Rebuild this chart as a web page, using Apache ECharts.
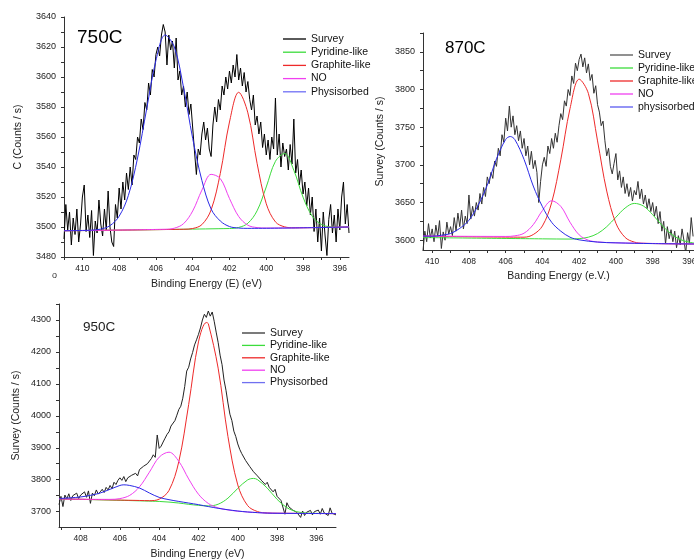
<!DOCTYPE html>
<html>
<head>
<meta charset="utf-8">
<title>N 1s XPS fits</title>
<script src="https://cdn.jsdelivr.net/npm/echarts@6/dist/echarts.min.js"></script>
<style>
  html, body { margin: 0; padding: 0; background: #fff; }
  #chart { width: 694px; height: 559px; }
</style>
</head>
<body>
<div id="chart"></div>
<script>
// ---------- 750C ----------
const survey750Start = 411.0 // eV, step 0.1 towards lower binding energy
const survey750 = [
  3492, 3515, 3498, 3510, 3488, 3506, 3495, 3512, 3490, 3502, 3520,
  3528, 3497, 3508, 3493, 3511, 3481, 3504, 3496, 3518, 3502,
  3494, 3512, 3498, 3524, 3500, 3490, 3487, 3515, 3506, 3526,
  3512, 3530, 3518, 3536, 3525, 3540, 3528, 3548, 3545, 3560,
  3556, 3572, 3565, 3583, 3578, 3596, 3588, 3605, 3600, 3615,
  3620, 3614, 3628, 3635, 3630, 3608, 3628, 3618, 3624, 3606,
  3626, 3598, 3604, 3588, 3594, 3580, 3590, 3575, 3582, 3566,
  3550, 3535, 3552, 3548, 3562, 3570, 3558, 3566, 3552, 3547,
  3568, 3580, 3570, 3585, 3578, 3594, 3588, 3600, 3592, 3604,
  3596, 3608, 3600, 3615, 3598, 3606, 3594, 3603, 3590, 3597,
  3585, 3578, 3588, 3568, 3574, 3562, 3570, 3553, 3562, 3548,
  3558, 3545, 3560, 3552, 3586, 3548, 3562, 3540, 3556, 3547,
  3552, 3538, 3555, 3542, 3572, 3536, 3545, 3528, 3538, 3522,
  3530, 3514, 3526, 3508, 3520, 3497, 3512, 3490, 3506, 3484,
  3510, 3494, 3481, 3505, 3515, 3496, 3508, 3490, 3512, 3498,
  3520, 3530, 3502, 3515, 3496
]
const pyridine750 = [[411,3497.5],[402,3499],[401.5,3499.7],[401,3502.5],[400.5,3510.8],[400,3526.7],[399.5,3543.8],[399,3549],[398.5,3537.8],[398,3519.9],[397.5,3507.2],[397,3501.7],[396.5,3500.1],[396,3499.9],[395.5,3500]]
const graphite750 = [[411,3497.5],[404.5,3498.5],[404,3499],[403.5,3501.6],[403,3511.4],[402.5,3535.7],[402,3570],[401.5,3589.8],[401,3576.1],[400.5,3542.5],[400,3515.5],[399.5,3503.4],[399,3500.1],[398.5,3499.5],[395.5,3500]]
const no750 = [[411,3497.5],[405.5,3498.5],[405,3499.2],[404.5,3502.2],[404,3510.7],[403.5,3524.6],[403,3535.1],[402.5,3532.3],[402,3519],[401.5,3507],[401,3501.2],[400.5,3499.6],[400,3499.3],[395.5,3500]]
const phys750 = [[411,3497.5],[410,3497.7],[409.5,3497.9],[409,3498.6],[408.5,3500.9],[408,3507.2],[407.5,3521],[407,3546],[406.5,3579],[406,3611],[405.5,3628],[405,3620],[404.5,3593],[404,3559],[403.5,3531],[403,3512],[402.5,3504],[402,3500.3],[401.5,3499.3],[401,3499.1],[395.5,3500]]
const xTicks750 = [396, 397, 398, 399, 400, 401, 402, 403, 404, 405, 406, 407, 408, 409, 410, 411]
const xLabels750 = [396, 398, 400, 402, 404, 406, 408, 410]
const yTicks750 = [3480, 3490, 3500, 3510, 3520, 3530, 3540, 3550, 3560, 3570, 3580, 3590, 3600, 3610, 3620, 3630, 3640]
const yLabels750 = [3480, 3500, 3520, 3540, 3560, 3580, 3600, 3620, 3640]

// ---------- 870C ----------
const survey870Start = 410.5
const survey870 = [
  3586, 3612, 3598, 3622, 3603, 3615,
  3598, 3620, 3605, 3626, 3589, 3611, 3600, 3624, 3608, 3618,
  3606, 3630, 3612, 3636, 3618, 3640, 3615, 3632, 3622, 3660,
  3628, 3645, 3632, 3650, 3640, 3662, 3648, 3670, 3658, 3684,
  3675, 3690, 3682, 3705, 3698, 3722, 3712, 3740, 3730, 3762,
  3745, 3778, 3750, 3765, 3740, 3752, 3732, 3745, 3722, 3735,
  3712, 3725, 3700, 3718, 3695, 3706, 3690, 3650, 3678, 3700,
  3710, 3698, 3725, 3715, 3735, 3722, 3742, 3730, 3752, 3768,
  3760, 3785, 3778, 3800, 3792, 3818, 3808, 3835, 3825, 3840,
  3847, 3830, 3842, 3822, 3834, 3812, 3820, 3795, 3805, 3780,
  3770, 3752, 3758, 3732, 3712, 3722, 3698, 3688, 3702, 3715,
  3680, 3692, 3670, 3684, 3662, 3675, 3658, 3670, 3652, 3666,
  3660, 3678, 3655, 3668, 3648, 3660, 3642, 3655, 3638, 3650,
  3632, 3645, 3622, 3638, 3612, 3625, 3595, 3618, 3602, 3614,
  3598, 3612, 3590, 3606, 3594, 3615, 3600, 3583, 3610, 3596,
  3630, 3605
]
const pyridine870 = [[410.5,3603.5],[404,3601.8],[402.5,3601.5],[402,3602.1],[401.5,3604],[401,3608.8],[400.5,3617.9],[400,3630.5],[399.5,3642.7],[399,3648.8],[398.5,3645.3],[398,3633.9],[397.5,3620],[397,3608.3],[396.5,3600.9],[396,3597.3],[395.75,3596.3]]
const graphite870 = [[410.5,3605.5],[405,3604],[404.5,3607.5],[404,3618.9],[403.5,3649.7],[403,3706.7],[402.5,3774.5],[402,3813.7],[401.5,3794.9],[401,3731.8],[400.5,3665.2],[400,3622.5],[399.5,3603.7],[399,3597.5],[398.5,3595.9],[395.75,3595]]
const no870 = [[410.5,3605.5],[406,3605],[405.5,3605.8],[405,3609.3],[404.5,3620.6],[404,3639.4],[403.5,3652.3],[403,3644.9],[402.5,3623.9],[402,3607.1],[401.5,3600],[401,3597.7],[400,3596.5],[395.75,3595]]
const phys870 = [[410.5,3605.5],[410,3605.3],[409.5,3606.6],[409,3608.9],[408.5,3615.7],[408,3626.5],[407.5,3646.3],[407,3673.1],[406.5,3708],[406,3733.7],[405.75,3737.6],[405.5,3733.5],[405,3707.2],[404.5,3671.9],[404,3644.5],[403.5,3623.8],[403,3612],[402.5,3604],[402,3600.5],[401,3597.5],[400,3596.5],[398,3595.5],[395.75,3595]]
const xTicks870 = [396, 397, 398, 399, 400, 401, 402, 403, 404, 405, 406, 407, 408, 409, 410]
const xLabels870 = [396, 398, 400, 402, 404, 406, 408, 410]
const yTicks870 = [3600, 3625, 3650, 3675, 3700, 3725, 3750, 3775, 3800, 3825, 3850, 3875]
const yLabels870 = [3600, 3650, 3700, 3750, 3800, 3850]

// ---------- 950C ----------
const survey950Start = 409.1
const survey950 = [
  3722, 3748,
  3716, 3752, 3740, 3756, 3735, 3750, 3744, 3758, 3741, 3752,
  3748, 3762, 3745, 3765, 3726, 3758, 3750, 3768, 3755, 3762,
  3770, 3760, 3776, 3768, 3782, 3772, 3792, 3785, 3798, 3806,
  3798, 3810, 3794, 3806, 3800, 3814, 3808, 3820, 3812, 3832,
  3826, 3842, 3836, 3850, 3845, 3866, 3878, 3870, 3940, 3898,
  3905, 3918, 3930, 3942, 3950, 3968, 3962, 3985, 4002, 4020,
  4030, 4055, 4092, 4140, 4152, 4178, 4198, 4222, 4238, 4255,
  4275, 4300, 4318, 4308, 4328, 4312, 4325, 4296, 4262, 4230,
  4190, 4160, 4112, 4080, 4040, 4005, 3985, 3952, 3935, 3912,
  3895, 3882, 3878, 3860, 3865, 3842, 3848, 3825, 3830, 3812,
  3815, 3798, 3804, 3785, 3792, 3776, 3780, 3762, 3770, 3748,
  3752, 3735, 3740, 3692, 3728, 3715, 3718, 3705, 3710, 3698,
  3700, 3682, 3702, 3688, 3698, 3694, 3704, 3690, 3700, 3695,
  3705, 3692, 3710, 3696, 3702, 3688, 3712, 3695, 3700, 3690
]
const pyridine950 = [[409.1,3740],[404,3732],[403,3727],[402.5,3723],[402,3719.8],[401.5,3718],[401,3723.3],[400.5,3742.3],[400,3772.9],[399.5,3799.3],[399.2,3804],[399,3800.4],[398.5,3773.8],[398,3738.6],[397.5,3712.6],[397,3699.9],[396.5,3695.7],[396,3694.6],[395,3694]]
const graphite950 = [[409.1,3740],[405,3735],[404.5,3734.4],[404,3739.2],[403.5,3766.5],[403,3857],[402.5,4035.3],[402,4231.4],[401.6,4292],[401.5,4288.5],[401,4149.2],[400.5,3935.2],[400,3783.8],[399.5,3719.1],[399,3700.4],[398.5,3695.9],[398,3695],[395,3694]]
const no950 = [[409.1,3740],[407,3738.5],[406.5,3738.5],[406,3740.9],[405.5,3751],[405,3777.9],[404.5,3823.5],[404,3870.6],[403.5,3886.2],[403,3857.3],[402.5,3802.5],[402,3754.6],[401.5,3725.7],[401,3711.8],[400.5,3705.5],[400,3701.5],[399,3697],[398,3695],[395,3694]]
const phys950 = [[409.1,3740],[409,3741.5],[408.5,3743.3],[408,3746],[407.5,3751],[407,3758.5],[406.5,3770],[406,3782],[405.8,3784],[405.5,3782],[405,3774],[404.5,3758.5],[404,3744.7],[403.5,3737.5],[403,3732],[402.5,3727],[402,3722],[401.5,3716],[401,3710.5],[400.5,3706],[400,3702],[399.5,3699],[399,3697],[398.5,3695.5],[398,3695],[397,3694.5],[395,3694]]
const xTicks950 = [396, 397, 398, 399, 400, 401, 402, 403, 404, 405, 406, 407, 408, 409]
const xLabels950 = [396, 398, 400, 402, 404, 406, 408]
const yTicks950 = [3700, 3750, 3800, 3850, 3900, 3950, 4000, 4050, 4100, 4150, 4200, 4250, 4300, 4350]
const yLabels950 = [3700, 3800, 3900, 4000, 4100, 4200, 4300]

const FONT = "'Liberation Sans', Arial, Helvetica, sans-serif"
const GREEN = '#3cdc3c'
const RED = '#ee2a2a'
const MAGENTA = '#f040f0'
const BLUE = '#2a2ae6'

function withEnergy(start, vals) {
  return vals.map((v, i) => [+(start - i * 0.1).toFixed(2), v])
}

const plain = (v) => String(v)

function xAxisOf(gi, min, max, ticks, labels, name, gap) {
  return {
    type: 'value', gridIndex: gi, min, max, inverse: true,
    name, nameLocation: 'middle', nameGap: gap,
    nameTextStyle: { fontFamily: FONT, fontSize: 10.5, color: '#222' },
    axisLine: { onZero: false, lineStyle: { color: '#333', width: 1 } },
    axisTick: { show: true, length: 3, customValues: ticks, lineStyle: { color: '#333' } },
    axisLabel: { customValues: labels, formatter: plain, margin: 7, fontFamily: FONT, fontSize: 8.5, color: '#222' },
    splitLine: { show: false },
  }
}

function yAxisOf(gi, min, max, ticks, labels, name, gap) {
  return {
    type: 'value', gridIndex: gi, min, max,
    name, nameLocation: 'middle', nameGap: gap,
    nameTextStyle: { fontFamily: FONT, fontSize: 10.5, color: '#222' },
    axisLine: { show: true, onZero: false, lineStyle: { color: '#333', width: 1 } },
    axisTick: { show: true, length: 3, customValues: ticks, lineStyle: { color: '#333' } },
    axisLabel: { customValues: labels, formatter: plain, margin: 8, fontFamily: FONT, fontSize: 9, color: '#222' },
    splitLine: { show: false },
  }
}

function surveySeries(gi, data, color) {
  return {
    type: 'line', name: 'Survey', xAxisIndex: gi, yAxisIndex: gi, data,
    symbol: 'none', lineStyle: { color, width: 1 }, itemStyle: { color }, z: 2,
  }
}

function fitSeries(gi, name, data, color) {
  return {
    type: 'line', name, xAxisIndex: gi, yAxisIndex: gi, data,
    symbol: 'none', smooth: 0.35, lineStyle: { color, width: 1 }, itemStyle: { color }, z: 3,
  }
}

// legend keys are plain strokes: a thin rect icon, text centred on it
function legendOf(left, top, gap, names, colors) {
  return {
    orient: 'vertical', left, top, icon: 'rect', itemWidth: 23, itemHeight: 1.3, itemGap: gap,
    selectedMode: false, padding: 0,
    textStyle: { fontFamily: FONT, fontSize: 10.5, color: '#111', lineHeight: 12 },
    data: names.map((n, i) => ({ name: n, icon: 'rect', itemStyle: { color: colors[i], borderWidth: 0 } })),
  }
}

const option = {
  animation: false,
  backgroundColor: '#fff',
  grid: [
    { left: 64, top: 17, width: 285, height: 240, containLabel: false, outerBoundsMode: 'none' },
    { left: 423, top: 33, width: 271, height: 217, containLabel: false, outerBoundsMode: 'none' },
    { left: 59, top: 304, width: 277, height: 223, containLabel: false, outerBoundsMode: 'none' },
  ],
  xAxis: [
    xAxisOf(0, 395.5, 411, xTicks750, xLabels750, 'Binding Energy (E) (eV)', 22),
    xAxisOf(1, 395.75, 410.5, xTicks870, xLabels870, 'Banding Energy (e.V.)', 21),
    xAxisOf(2, 395, 409.1, xTicks950, xLabels950, 'Binding Energy (eV)', 22),
  ],
  yAxis: [
    yAxisOf(0, 3480, 3640, yTicks750, yLabels750, 'C (Counts / s)', 40),
    yAxisOf(1, 3587, 3875, yTicks870, yLabels870, 'Survey (Counts / s)', 37),
    yAxisOf(2, 3652, 4350, yTicks950, yLabels950, 'Survey (Counts / s)', 37),
  ],
  title: [
    { text: '750C', left: 77, top: 28, padding: 0, textStyle: { fontFamily: FONT, fontSize: 19, fontWeight: 'normal', color: '#000' } },
    { text: '870C', left: 445, top: 40, padding: 0, textStyle: { fontFamily: FONT, fontSize: 17, fontWeight: 'normal', color: '#000' } },
    { text: '950C', left: 83, top: 320, padding: 0, textStyle: { fontFamily: FONT, fontSize: 13.5, fontWeight: 'normal', color: '#222' } },
  ],
  legend: [
    legendOf(283, 33, 1.2, ['Survey', 'Pyridine-like', 'Graphite-like', 'NO', 'Physisorbed'], ['#000', GREEN, RED, MAGENTA, '#6f6ff5']),
    legendOf(610, 49, 1, ['Survey', 'Pyridine-like', 'Graphite-like', 'NO', 'physisorbed'], ['#555', GREEN, RED, MAGENTA, '#5a5af0']),
    legendOf(242, 327, 0.4, ['Survey', 'Pyridine-like', 'Graphite-like', 'NO', 'Physisorbed'], ['#333', GREEN, RED, MAGENTA, '#7070f0']),
  ],
  graphic: [
    { type: 'text', left: 52, top: 271, style: { text: 'o', fontFamily: FONT, fontSize: 9, fill: '#333' } },
  ],
  series: [
    surveySeries(0, withEnergy(survey750Start, survey750), '#000'),
    fitSeries(0, 'Pyridine-like', pyridine750, GREEN),
    fitSeries(0, 'Graphite-like', graphite750, RED),
    fitSeries(0, 'NO', no750, MAGENTA),
    fitSeries(0, 'Physisorbed', phys750, BLUE),

    surveySeries(1, withEnergy(survey870Start, survey870), '#333'),
    fitSeries(1, 'Pyridine-like', pyridine870, GREEN),
    fitSeries(1, 'Graphite-like', graphite870, RED),
    fitSeries(1, 'NO', no870, MAGENTA),
    fitSeries(1, 'physisorbed', phys870, BLUE),

    surveySeries(2, withEnergy(survey950Start, survey950), '#222'),
    fitSeries(2, 'Pyridine-like', pyridine950, GREEN),
    fitSeries(2, 'Graphite-like', graphite950, RED),
    fitSeries(2, 'NO', no950, MAGENTA),
    fitSeries(2, 'Physisorbed', phys950, BLUE),
  ],
}

const chart = echarts.init(document.getElementById('chart'), null, { renderer: 'canvas' })
chart.setOption(option)
</script>
</body>
</html>
